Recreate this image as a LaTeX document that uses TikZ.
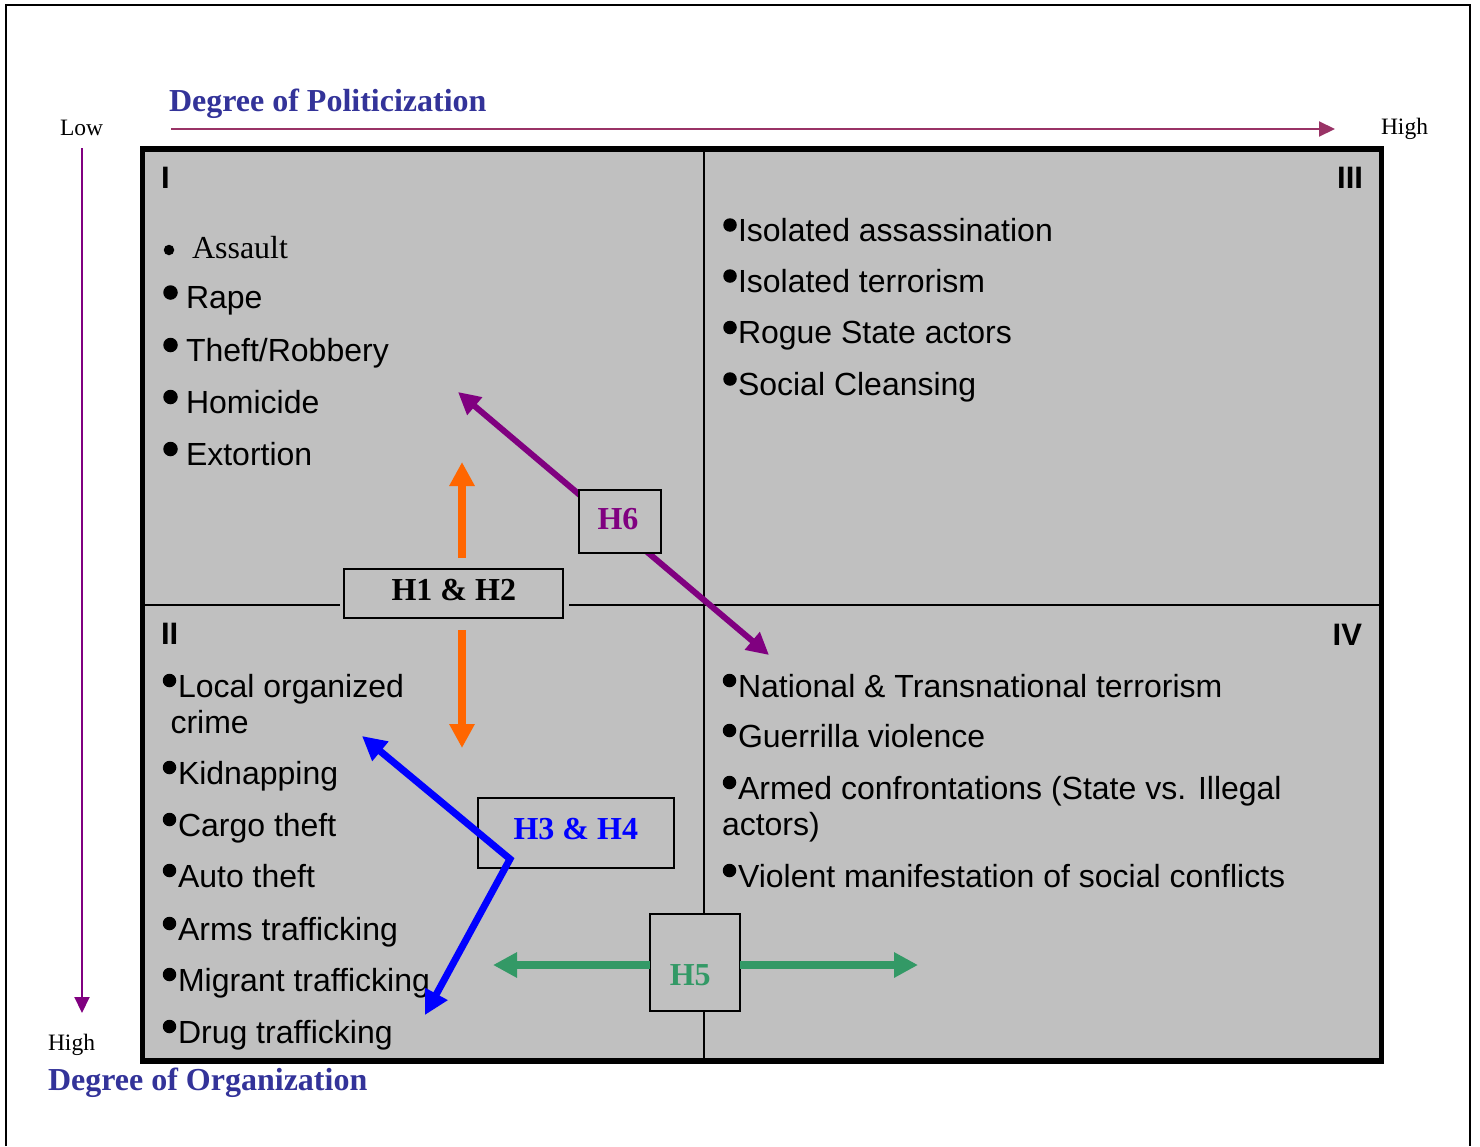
\documentclass[tikz,border=0pt]{standalone}
\usepackage{fontspec}
\setmainfont{Liberation Serif}
\newfontfamily\arialf{Liberation Sans}
\usetikzlibrary{arrows.meta}
\definecolor{boxgray}{HTML}{C0C0C0}
\definecolor{titleblue}{HTML}{333399}
\definecolor{axmaroon}{HTML}{993366}
\definecolor{axpurple}{HTML}{800080}
\definecolor{hgreen}{HTML}{339966}
\definecolor{horange}{HTML}{FF6600}
\definecolor{hblue}{HTML}{0000FF}
\begin{document}
\begin{tikzpicture}[x=1pt,y=-1pt,
  every node/.style={inner sep=0pt, outer sep=0pt},
  itm/.style={anchor=base west, font=\arialf\fontsize{32}{38}\selectfont},
  bul/.style={circle, fill=black, minimum size=13.5pt},
  bbul/.style={circle, fill=black, minimum size=14.5pt},
  sbul/.style={circle, fill=black, minimum size=10.5pt},
  qlbl/.style={font=\arialf\bfseries\fontsize{31}{37}\selectfont},
  hbox/.style={draw=black, line width=2pt, fill=boxgray, font=\bfseries\fontsize{32}{38}\selectfont},
  ttl/.style={anchor=base west, text=titleblue, font=\bfseries\fontsize{32}{38}\selectfont},
  axlbl/.style={anchor=base west, font=\fontsize{23.5}{28}\selectfont},
  axarrow/.style={line width=2pt, -{Triangle[length=16pt,width=15pt]}},
  fatarrow/.style={line width=8pt, -{Triangle[length=24pt,width=24pt]}},
]
\useasboundingbox (0,0) rectangle (1480,1146);
% outer frame
\draw[line width=2pt] (6,1146) -- (6,5) -- (1470,5) -- (1470,1146);
% main box
\draw[line width=5.5pt, fill=boxgray] (142.5,149) rectangle (1381.5,1061);
% dividers
\draw[line width=2.7pt] (704,149) -- (704,1061);
\draw[line width=2.7pt] (143,605) -- (340,605);
\draw[line width=2.7pt] (569,605) -- (1382,605);

% axes
\coordinate (hx0) at (171,129);
\coordinate (hx1) at (1335,129);
\draw[axarrow, axmaroon] (hx0) -- (hx1);
\coordinate (vy0) at (82,148);
\coordinate (vy1) at (82,1013);
\draw[axarrow, axpurple] (vy0) -- (vy1);

\node[axlbl] (low) at (60,135) {Low};
\node[axlbl] (hiR) at (1381,134) {High};
\node[axlbl] (hiB) at (48,1050) {High};
\node[ttl] (tpol) at (169,111) {Degree of Politicization};
\node[ttl] (torg) at (48,1090) {Degree of Organization};

% quadrant labels
\node[qlbl, anchor=base west] (q1) at (161,188) {I};
\node[qlbl, anchor=base east] (q3) at (1363,188) {III};
\node[qlbl, anchor=base west] (q2) at (161,644) {II};
\node[qlbl, anchor=base east] (q4) at (1362,645) {IV};

% quadrant I
\node[sbul] (b1a) at (169,250) {};
\node[itm, font=\fontsize{32}{38}\selectfont] (t1a) at (192,258) {Assault};
\node[bbul] (b1b) at (170.5,292.5) {};
\node[itm] (t1b) at (186,308) {Rape};
\node[bbul] (b1c) at (170.5,345) {};
\node[itm] (t1c) at (186,361) {Theft/Robbery};
\node[bbul] (b1d) at (170.5,397) {};
\node[itm] (t1d) at (186,413) {Homicide};
\node[bbul] (b1e) at (170.5,449) {};
\node[itm] (t1e) at (186,465) {Extortion};

% quadrant III
\node[bul] (b3a) at (730,225) {};
\node[itm] (t3a) at (738,241) {Isolated assassination};
\node[bul] (b3b) at (730,276) {};
\node[itm] (t3b) at (738,292) {Isolated terrorism};
\node[bul] (b3c) at (730,327.5) {};
\node[itm] (t3c) at (738,343.5) {Rogue State actors};
\node[bul] (b3d) at (730,379) {};
\node[itm] (t3d) at (738,395) {Social Cleansing};

% quadrant II
\node[bul] (b2a) at (169.5,680.5) {};
\node[itm] (t2a) at (178,697) {Local organized};
\node[itm] (t2a2) at (170.5,733) {crime};
\node[bul] (b2b) at (169.5,767.5) {};
\node[itm] (t2b) at (178,784) {Kidnapping};
\node[bul] (b2c) at (169.5,819.5) {};
\node[itm] (t2c) at (178,836) {Cargo theft};
\node[bul] (b2d) at (169.5,870.5) {};
\node[itm] (t2d) at (178,887) {Auto theft};
\node[bul] (b2e) at (169.5,923.5) {};
\node[itm] (t2e) at (178,940) {Arms trafficking};
\node[bul] (b2f) at (169.5,974.5) {};
\node[itm] (t2f) at (178,991) {Migrant trafficking};
\node[bul] (b2g) at (169.5,1026.5) {};
\node[itm] (t2g) at (178,1043) {Drug trafficking};

% quadrant IV
\node[bul] (b4a) at (729.5,680.5) {};
\node[itm] (t4a) at (738,697) {National \& Transnational terrorism};
\node[bul] (b4b) at (729.5,730.5) {};
\node[itm] (t4b) at (738,747) {Guerrilla violence};
\node[bul] (b4c) at (729.5,782.5) {};
\node[itm] (t4c) at (738,799) {Armed confrontations (State vs. Illegal};
\node[itm] (t4c2) at (722,835) {actors)};
\node[bul] (b4d) at (729.5,870.5) {};
\node[itm] (t4d) at (738,887) {Violent manifestation of social conflicts};

% orange arrows (H1 & H2)
\coordinate (o1) at (462,558);
\coordinate (o1t) at (462,462);
\coordinate (o2) at (462,630);
\coordinate (o2t) at (462,748);
\draw[fatarrow, horange] (o1) -- (o1t);
\draw[fatarrow, horange] (o2) -- (o2t);

% purple arrow (H6)
\coordinate (p1) at (458,392);
\coordinate (p2) at (769,655);
\draw[line width=6pt, axpurple, {Triangle[length=22pt,width=22pt]}-{Triangle[length=22pt,width=22pt]}] (p1) -- (p2);

% boxes
\node[hbox, minimum width=219pt, minimum height=49.5pt, text height=22pt, text depth=8.6pt] (h12) at (453.8,593.3) {H1 \& H2};
\node[hbox, text=axpurple, minimum width=82.6pt, minimum height=63.6pt, text height=22pt, text depth=7pt] (h6) at (620,521.5) {H6\kern4pt};
\node[hbox, text=hblue, minimum width=196.3pt, minimum height=70pt, text height=22pt, text depth=10.6pt] (h34) at (575.8,833.3) {H3 \& H4};
\node[hbox, text=hgreen, minimum width=89.7pt, minimum height=96.4pt, text height=45pt, text depth=0pt] (h5) at (695.2,962.5) {H5\kern10pt};

% green arrows (H5)
\coordinate (g1) at (493,965);
\coordinate (g2) at (918,965);
\draw[fatarrow, hgreen] (h5.west |- g1) -- (g1);
\draw[fatarrow, hgreen] (h5.east |- g2) -- (g2);

% blue arrows (H3 & H4)
\coordinate (bv) at (510,859);
\coordinate (bb1) at (362,736);
\coordinate (bb2) at (425,1015);
\draw[line width=7pt, hblue, line join=miter, {Triangle[length=24pt,width=24pt]}-{Triangle[length=24pt,width=24pt]}] (bb1) -- (bv) -- (bb2);
\end{tikzpicture}
\end{document}
